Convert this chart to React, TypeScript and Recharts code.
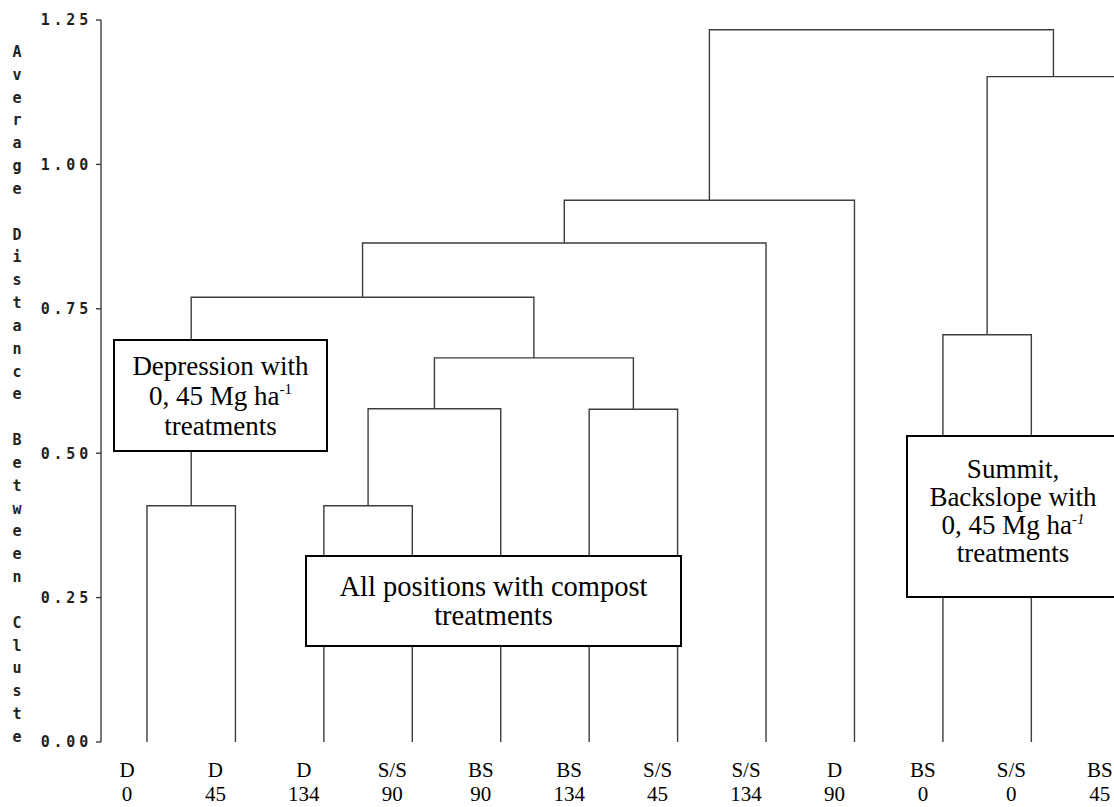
import React from 'react';
import { ComposedChart, Line, XAxis, YAxis } from 'recharts';

// leaves in the order they sit along the bottom
const positions = ['D', 'D', 'D', 'S/S', 'BS', 'BS', 'S/S', 'S/S', 'D', 'BS', 'S/S', 'BS'];
const rates = ['0', '45', '134', '90', '90', '134', '45', '134', '90', '0', '0', '45'];

// joins: ids 0-11 are leaves, id 12+k is the k-th join below
const joinLeft = [0, 2, 13, 5, 14, 12, 17, 18, 9, 20, 19];
const joinRight = [1, 3, 4, 6, 15, 16, 7, 8, 10, 11, 21];
const joinHeight = [0.409, 0.409, 0.577, 0.576, 0.665, 0.77, 0.864, 0.938, 0.705, 1.152, 1.233];

const yTicks = [0, 0.25, 0.5, 0.75, 1, 1.25];
const yTitle = 'Average Distance Between Cluste';

// x of each node is the leaf index (or the mid point of its two children)
const nodeX: number[] = positions.map((_, i) => i);
const nodeH: number[] = positions.map(() => 0);
joinLeft.forEach((l, k) => {
  nodeX.push((nodeX[l] + nodeX[joinRight[k]]) / 2);
  nodeH.push(joinHeight[k]);
});

// each join is drawn as an upside-down U
const links = joinLeft.map((l, k) => {
  const r = joinRight[k];
  const h = joinHeight[k];
  return [
    { x: nodeX[l], y: nodeH[l] },
    { x: nodeX[l], y: h },
    { x: nodeX[r], y: h },
    { x: nodeX[r], y: nodeH[r] },
  ];
});

const LINE = '#3d3d3d';
const SERIF = '"Liberation Serif", "Times New Roman", serif';
const MONO = '"DejaVu Sans Mono", monospace';

// leaf names sit a little to the left of their stems
const LeafTick = ({ x, y, payload }: any) => {
  const i = payload.value;
  const cx = x - 20;
  return (
    <text x={cx} y={y} textAnchor="middle" fontFamily={SERIF} fontSize={21} fill="#000">
      <tspan x={cx} dy={27}>{positions[i]}</tspan>
      <tspan x={cx} dy={24}>{rates[i]}</tspan>
    </text>
  );
};

const YTitle = () => (
  <text textAnchor="middle" fontFamily={MONO} fontWeight="bold" fontSize={15} fill="#222">
    {yTitle.split('').map((c, i) => (
      <tspan key={i} x={17} y={57 + i * 22.83}>
        {c === ' ' ? '\u00a0' : c}
      </tspan>
    ))}
  </text>
);

const boxStyle: React.CSSProperties = {
  position: 'absolute',
  boxSizing: 'border-box',
  border: '2px solid #000',
  background: '#fff',
  fontFamily: SERIF,
  color: '#000',
  textAlign: 'center',
  display: 'flex',
  flexDirection: 'column',
  justifyContent: 'center',
};

const supStyle: React.CSSProperties = { fontSize: 15, verticalAlign: 'top', lineHeight: '16px' };

export default function App() {
  return (
    <div
      style={{
        position: 'absolute',
        left: 0,
        top: 0,
        width: 1114,
        height: 807,
        overflow: 'hidden',
        background: '#fff',
      }}
    >
      <ComposedChart width={1164} height={807} margin={{ top: 20, right: 0, bottom: 5, left: 0 }}>
        <XAxis
          type="number"
          dataKey="x"
          domain={[-0.52, 11.5]}
          ticks={positions.map((_, i) => i)}
          interval={0}
          allowDataOverflow
          axisLine={false}
          tickLine={false}
          height={60}
          tick={<LeafTick />}
        />
        <YAxis
          type="number"
          domain={[0, 1.25]}
          ticks={yTicks}
          interval={0}
          width={101}
          tickSize={5}
          tickMargin={4}
          axisLine={{ stroke: LINE, strokeWidth: 1.4 }}
          tickLine={{ stroke: LINE, strokeWidth: 1.4 }}
          tickFormatter={(v: number) => v.toFixed(2)}
          tick={{ fontFamily: MONO, fontWeight: 'bold', fontSize: 15, fill: '#222', letterSpacing: 3.8 }}
          label={{ content: () => <YTitle /> }}
        />
        {links.map((pts, k) => (
          <Line
            key={k}
            data={pts}
            dataKey="y"
            type="linear"
            stroke={LINE}
            strokeWidth={1.4}
            dot={false}
            activeDot={false}
            isAnimationActive={false}
          />
        ))}
      </ComposedChart>

      <div style={{ ...boxStyle, left: 113, top: 339, width: 215, height: 113, fontSize: 27, lineHeight: '30px' }}>
        <div>Depression with</div>
        <div>
          0, 45 Mg ha<sup style={supStyle}>-1</sup>
        </div>
        <div>treatments</div>
      </div>

      <div style={{ ...boxStyle, left: 305, top: 555, width: 377, height: 92, fontSize: 28.5, lineHeight: '29px' }}>
        <div>All positions with compost</div>
        <div>treatments</div>
      </div>

      <div
        style={{
          ...boxStyle,
          left: 906,
          top: 435,
          width: 214,
          height: 163,
          fontSize: 27,
          lineHeight: '28px',
          paddingBottom: 12,
        }}
      >
        <div>Summit,</div>
        <div>Backslope with</div>
        <div>
          0, 45 Mg ha
          <sup style={supStyle}>
            -<i>1</i>
          </sup>
        </div>
        <div>treatments</div>
      </div>
    </div>
  );
}
